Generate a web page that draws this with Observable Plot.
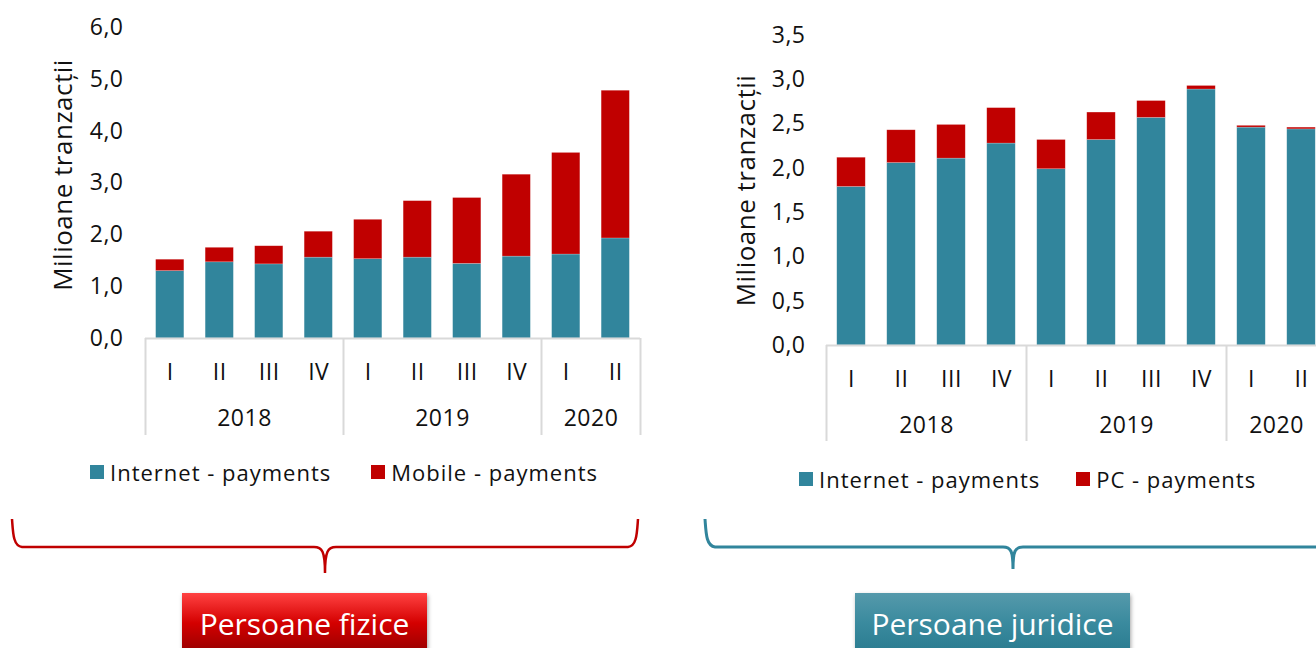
<!DOCTYPE html>
<html>
<head>
<meta charset="utf-8">
<script src="https://cdn.jsdelivr.net/npm/d3@7"></script>
<script src="https://cdn.jsdelivr.net/npm/@observablehq/plot@0.6"></script>
<style>
  html, body { margin: 0; padding: 0; }
  body { width: 1316px; height: 648px; overflow: hidden; position: relative; background: #fff; font-family: "Open Sans", sans-serif; }
  .chart { position: absolute; }
  .chart svg { max-width: none !important; }
  .legend { position: absolute; display: flex; align-items: center; font-size: 22px; letter-spacing: 1px; color: #111; white-space: nowrap; }
  .legend .sw { display: inline-block; width: 14px; height: 14px; margin-right: 6px; }
  .legend .item { display: flex; align-items: center; }
  .box { position: absolute; color: #fff; font-size: 30px; display: flex; align-items: center; justify-content: center; box-shadow: 1px 2px 4px rgba(0,0,0,0.35); }
  #deco { position: absolute; left: 0; top: 0; }
</style>
</head>
<body>
<div id="left" class="chart" style="left:0px; top:0px; width:660px; height:440px;"></div>
<div id="right" class="chart" style="left:700px; top:0px; width:626px; height:450px;"></div>
<div id="legL" class="legend" style="left:90px; top:457px;"></div>
<div id="legR" class="legend" style="left:799px; top:464px;"></div>
<svg id="deco" width="1316" height="648">
  <path d="M12,519 C13,532 13,546 22,547 L314,547 C322,547 325,551 325,573 C325,551 328,547 336,547 L628,547 C637,546 637,532 638,519" fill="none" stroke="#c00000" stroke-width="2.5"/>
  <path d="M705,519 C706,532 706,546 715,547 L1003,547 C1011,547 1013,551 1013,569 C1013,551 1015,547 1023,547 L1316,547" fill="none" stroke="#31859c" stroke-width="3"/>
</svg>
<div class="box" style="left:182px; top:593px; width:245px; height:60px; background:linear-gradient(#ff4242, #d40000 50%, #960000);">Persoane fizice</div>
<div class="box" style="left:855px; top:593px; width:275px; height:60px; background:linear-gradient(#5599ab, #3a8a9e 50%, #2a7b8f);">Persoane juridice</div>
<script>
// ---- data ----
const quarters = ["I", "II", "III", "IV", "I", "II", "III", "IV", "I", "II"];
const years = ["2018", "2018", "2018", "2018", "2019", "2019", "2019", "2019", "2020", "2020"];

// Persoane fizice (milioane tranzacții)
const fiziceInternet = [1.30, 1.47, 1.43, 1.56, 1.53, 1.56, 1.44, 1.58, 1.62, 1.93];
const fiziceMobile   = [0.22, 0.28, 0.35, 0.50, 0.76, 1.09, 1.27, 1.58, 1.96, 2.85];

// Persoane juridice (milioane tranzacții)
const juridiceInternet = [1.79, 2.06, 2.11, 2.28, 1.99, 2.32, 2.57, 2.89, 2.46, 2.44];
const juridicePC       = [0.33, 0.37, 0.38, 0.40, 0.33, 0.31, 0.19, 0.04, 0.02, 0.02];

const seriesLeft = ["Internet - payments", "Mobile - payments"];
const seriesRight = ["Internet - payments", "PC - payments"];
const colors = ["#31859c", "#c00000"];
const yTitle = "Milioane tranzacții";

const fmt = d => d.toFixed(1).replace(".", ",");
const FONT = "Open Sans";

function buildRows(a, b, names) {
  const rows = [];
  quarters.forEach((q, i) => {
    rows.push({i, q, year: years[i], series: names[0], y1: 0, y2: a[i]});
    rows.push({i, q, year: years[i], series: names[1], y1: a[i], y2: a[i] + b[i]});
  });
  return rows;
}

function groups() {
  const uniq = [...new Set(years)];
  const bounds = [-0.5];
  const centers = [];
  uniq.forEach(y => {
    const idx = years.map((v, i) => v === y ? i : -1).filter(i => i >= 0);
    bounds.push(idx[idx.length - 1] + 0.5);
    centers.push({x: (idx[0] + idx[idx.length - 1]) / 2, year: y});
  });
  return {bounds, centers};
}

function chart({a, b, names, yMax, yStep, width, height, mt, mb, ml, mr, sepLen, qPad, yPad, ytPad, titleDx, titleDy}) {
  const rows = buildRows(a, b, names);
  const {bounds, centers} = groups();
  const yTicks = d3.range(0, yMax + 1e-9, yStep);
  return Plot.plot({
    width, height,
    marginTop: mt, marginBottom: mb, marginLeft: ml, marginRight: mr,
    style: {fontFamily: FONT, fontSize: "23px", color: "#111", overflow: "visible", letterSpacing: "0.5px"},
    x: {type: "linear", domain: [-0.5, quarters.length - 0.5]},
    y: {domain: [0, yMax]},
    color: {domain: names, range: colors},
    marks: [
      Plot.axisY(yTicks, {tickFormat: fmt, tickSize: 0, tickPadding: ytPad, label: null, fontSize: 23}),
      Plot.text([yTitle], {frameAnchor: "left", textAnchor: "middle", lineAnchor: "middle", rotate: -90, dx: titleDx, dy: titleDy, fontSize: 26, fill: "#111", style: {letterSpacing: "1.5px"}}),
      Plot.rectY(rows, {x1: d => d.i - 0.285, x2: d => d.i + 0.285, y1: "y1", y2: "y2", fill: "series", stroke: "#ffffff", strokeOpacity: 0.35, strokeWidth: 0.6}),
      Plot.ruleY([0], {stroke: "#d9d9d9", strokeWidth: 2}),
      Plot.axisX(bounds, {tickSize: sepLen, tickFormat: () => "", stroke: "#d9d9d9", strokeWidth: 2, label: null}),
      Plot.axisX(d3.range(quarters.length), {tickSize: 0, tickPadding: qPad, tickFormat: i => quarters[i], label: null, fontSize: 23}),
      Plot.axisX(centers.map(c => c.x), {tickSize: 0, tickPadding: yPad, tickFormat: x => centers.find(c => c.x === x).year, label: null, fontSize: 23})
    ]
  });
}

document.getElementById("left").append(chart({
  a: fiziceInternet, b: fiziceMobile, names: seriesLeft,
  yMax: 6, yStep: 1, width: 660, height: 440, mt: 27, mb: 102, ml: 145, mr: 20,
  sepLen: 97, qPad: 25, yPad: 71, ytPad: 22, titleDx: -82, titleDy: -8
}));

document.getElementById("right").append(chart({
  a: juridiceInternet, b: juridicePC, names: seriesRight,
  yMax: 3.5, yStep: 0.5, width: 626, height: 450, mt: 35, mb: 105, ml: 126, mr: 0,
  sepLen: 96, qPad: 25, yPad: 71, ytPad: 21, titleDx: -80, titleDy: 0
}));

function legend(id, names, gap) {
  const el = document.getElementById(id);
  names.forEach((n, k) => {
    const item = document.createElement("div");
    item.className = "item";
    item.style.marginRight = k === 0 ? gap + "px" : "0";
    const sw = document.createElement("span");
    sw.className = "sw";
    sw.style.background = colors[k];
    item.append(sw, document.createTextNode(n));
    el.append(item);
  });
}
legend("legL", seriesLeft, 40);
legend("legR", seriesRight, 36);
</script>
</body>
</html>
